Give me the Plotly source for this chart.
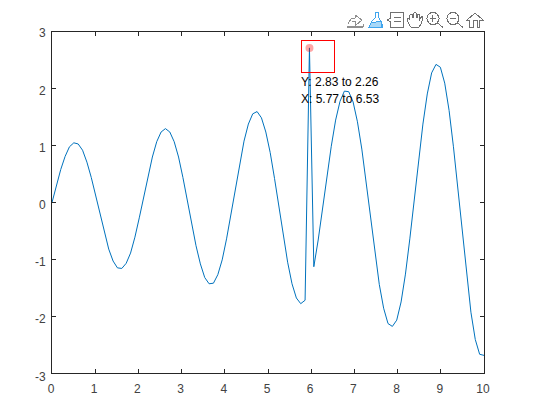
import plotly.graph_objects as go

W, H = 537, 419
L, R, T, B = 52, 484, 32, 373

x_min = [0.0, 10.0]
point_count = 100
x_values = [k * 10 / 99 for k in range(point_count)]
y_values = [
    0, .30, .58, .81, .98, 1.05, 1.03, .92, .71, .44,
    .12, -.21, -.54, -.82, -1.03, -1.15, -1.16, -1.07, -.89, -.61,
    -.27, .10, .47, .80, 1.07, 1.24, 1.30, 1.24, 1.07, .80,
    .44, .04, -.37, -.76, -1.08, -1.32, -1.43, -1.42, -1.27, -1.01,
    -.64, -.21, .25, .69, 1.08, 1.38, 1.56, 1.60, 1.49, 1.24,
    .88, .42, -.09, -.59, -1.05, -1.43, -1.68, -1.78, -1.72, 2.72,
    -1.13, -.66, -.11, .45, .99, 1.45, 1.78, 1.96, 1.95, 1.77,
    1.42, .94, .36, -.27, -.89, -1.44, -1.86, -2.13, -2.18, -2.07,
    -1.75, -1.26, -.64, .04, .74, 1.38, 1.91, 2.28, 2.43, 2.38,
    2.10, 1.62, .98, .24, -.54, -1.29, -1.93, -2.41, -2.67, -2.69,
]
x_ticks = [0, 1, 2, 3, 4, 5, 6, 7, 8, 9, 10]
y_ticks = [-3, -2, -1, 0, 1, 2, 3]
selected_x = [5.96]
selected_y = [2.72]
brush_x = [5.77, 6.53]
brush_y = [2.28, 2.85]
brush_labels = ["Y: 2.83 to 2.26", "X: 5.77 to 6.53"]

FONT = "Liberation Sans"
AXIS = "#262626"
TICKTEXT = "#404040"
LINE = "#0072BD"
GREY = "#707070"
BLUE = "#3fa5ee"


def px(x):
    return (x - L) / (R - L)


def py(y):
    return (B - y) / (B - T)


def path(points, close=False):
    s = "M" + " L".join(f"{px(a):.5f},{py(b):.5f}" for a, b in points)
    return s + (" Z" if close else "")


def icon(points, color=GREY, close=False, fill=None, width=1):
    return dict(type="path", xref="paper", yref="paper", layer="above",
                path=path(points, close), line=dict(color=color, width=width),
                fillcolor=fill if fill else "rgba(0,0,0,0)")


def circ(cx, cy, r, color=GREY):
    return dict(type="circle", xref="paper", yref="paper",
                x0=px(cx - r), x1=px(cx + r), y0=py(cy + r), y1=py(cy - r),
                line=dict(color=color, width=1))


shapes = [
    dict(type="rect", xref="x", yref="y", x0=brush_x[0], x1=brush_x[1],
         y0=brush_y[0], y1=brush_y[1], line=dict(color="#ff0000", width=1)),
    # edit tool
    icon([(348, 24), (351, 19), (355, 18), (355, 15), (362, 20), (356, 25), (356, 22), (352, 22)], color="#909090"),
    icon([(347, 27), (363, 27)], color="#909090", width=1.5),
    icon([(363, 24), (363, 27)], color="#909090"),
    # brush
    icon([(375, 13), (379, 13), (379, 18), (382, 24), (382, 27), (369, 27), (372, 21), (375, 18)], color=BLUE, close=True),
    icon([(371, 23), (381, 21), (382, 27), (369, 27)], color=BLUE, close=True, fill="#a8d8f8"),
    # legend
    icon([(391, 13), (403, 13), (403, 27), (391, 27), (391, 22), (387, 20), (391, 18)], close=True),
    icon([(394, 18), (401, 18)]),
    icon([(394, 22), (401, 22)]),
    # hand
    icon([(410, 26), (407, 20), (408, 18), (410, 20), (410, 15), (412, 14), (413, 18), (414, 13), (416, 13), (417, 18),
          (418, 14), (420, 15), (420, 19), (422, 16), (423, 18), (421, 24), (419, 27), (411, 27)], close=True),
    # zoom in
    circ(433, 18.5, 6),
    icon([(437.5, 23), (443, 27.5)]),
    icon([(430, 18.5), (436, 18.5)]),
    icon([(433, 15.5), (433, 21.5)]),
    # zoom out
    circ(453, 18.5, 6),
    icon([(457.5, 23), (463, 27.5)]),
    icon([(450, 18.5), (456, 18.5)]),
    # home
    icon([(467, 20), (475, 13), (483, 20), (480, 20), (480, 27), (477, 27), (477, 21), (473, 21), (473, 27), (470, 27), (470, 20)], close=True),
]

annotations = [
    dict(x=brush_x[0], y=brush_y[0], xref="x", yref="y", xanchor="left", yanchor="middle",
         xshift=-2.5, yshift=-9.5, text=brush_labels[0], showarrow=False,
         font=dict(family=FONT, size=12, color="#000000")),
    dict(x=brush_x[0], y=brush_y[0], xref="x", yref="y", xanchor="left", yanchor="middle",
         xshift=-2.5, yshift=-26.5, text=brush_labels[1], showarrow=False,
         font=dict(family=FONT, size=12, color="#000000")),
]

fig = go.Figure()
fig.add_trace(go.Scatter(x=x_values, y=y_values, mode="lines",
                         line=dict(color=LINE, width=1), hoverinfo="skip"))
fig.add_trace(go.Scatter(x=selected_x, y=selected_y, mode="markers",
                         marker=dict(color="rgba(255,0,0,0.35)", size=8), hoverinfo="skip"))

axis_style = dict(showgrid=False, zeroline=False, showline=True, mirror="ticks",
                  linecolor=AXIS, linewidth=1, ticks="inside", ticklen=4, tickwidth=1,
                  tickcolor=AXIS, tickfont=dict(family=FONT, size=12, color=TICKTEXT))
fig.update_xaxes(range=x_min, tickvals=x_ticks, ticktext=[str(v) for v in x_ticks],
                 ticklabelstandoff=5, **axis_style)
fig.update_yaxes(range=[-3, 3], tickvals=y_ticks, ticktext=[str(v) for v in y_ticks],
                 ticklabelstandoff=3, **axis_style)
fig.update_layout(width=W, height=H, showlegend=False, plot_bgcolor="white", paper_bgcolor="white",
                  margin=dict(l=L, r=W - R, t=T, b=H - B, pad=0), shapes=shapes, annotations=annotations)
post = ("document.body.style.margin='0';"
        "var s=document.createElement('style');"
        "s.textContent='svg text{opacity:.99 !important}"
        ".layer-above .shapelayer path:first-child{shape-rendering:crispEdges}';"
        "document.head.appendChild(s);"
        "var off={'3':1,'-2':2.5,'-3':3.5};"
        "document.querySelectorAll('.ytick text').forEach(function(t){"
        "var d=off[t.textContent];if(d===undefined)d=2;"
        "t.setAttribute('y',parseFloat(t.getAttribute('y')||0)+d);});"
        "document.querySelectorAll('.xtick text').forEach(function(t){"
        "t.setAttribute('x',parseFloat(t.getAttribute('x')||0)-1);});")
fig.write_html("out.html", config=dict(displayModeBar=False), post_script=post)
